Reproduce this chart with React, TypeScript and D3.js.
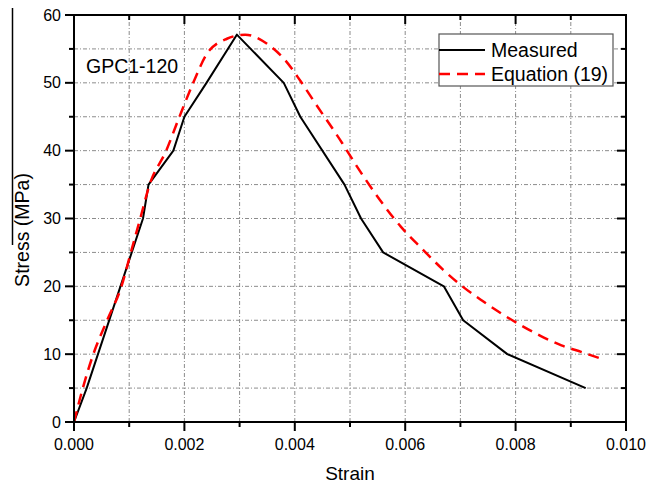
import React from 'react';
import * as d3 from 'd3';

const measuredStrain = [0, 0.00023, 0.00125, 0.00135, 0.0018, 0.002, 0.0024, 0.00295, 0.0038, 0.0041, 0.0049, 0.0052, 0.0056, 0.0067, 0.00705, 0.00785, 0.00927];
const measuredStress = [0, 5, 30, 35, 40, 45, 50, 57.1, 50, 45, 35, 30, 25, 20, 15, 10, 5];

const eqStrain = [0, 0.00016, 0.00035, 0.0006, 0.00086, 0.00103, 0.0012, 0.00137, 0.00167, 0.00191, 0.00216, 0.00241, 0.00277, 0.0031, 0.00349, 0.00382, 0.0041, 0.00437, 0.00486, 0.0051, 0.00559, 0.00592, 0.00631, 0.00668, 0.00702, 0.00739, 0.00776, 0.00812, 0.00845, 0.00883, 0.0092, 0.00956];
const eqStress = [0, 5, 10, 15, 20, 25, 30, 35, 40, 45, 50, 54.3, 56.5, 57.1, 55.8, 53.4, 50.3, 47, 41.1, 38, 32.2, 28.8, 25.5, 22.5, 20.1, 17.9, 15.9, 14.15, 12.7, 11.3, 10.3, 9.3];

const xTickLabels = ['0.000', '0.002', '0.004', '0.006', '0.008', '0.010'];
const xMajor = [0, 0.002, 0.004, 0.006, 0.008, 0.01];
const xMinor = [0.001, 0.003, 0.005, 0.007, 0.009];
const yMajor = [0, 10, 20, 30, 40, 50, 60];
const yMinor = [5, 15, 25, 35, 45, 55];
const seriesNames = ['Measured', 'Equation (19)'];
const annotation = 'GPC1-120';

const FONT = '"Liberation Sans", Arial, sans-serif';

export default function App() {
  const x = d3.scaleLinear().domain([0, 0.01]).range([74, 626]);
  const y = d3.scaleLinear().domain([0, 60]).range([422, 15]);
  const [x0, x1] = x.range();
  const [y0, y1] = y.range();

  const lineGen = d3.line<[number, number]>().x(d => x(d[0])).y(d => y(d[1]));
  const curveGen = d3.line<[number, number]>().x(d => x(d[0])).y(d => y(d[1])).curve(d3.curveMonotoneX);

  const measured: [number, number][] = measuredStrain.map((s, i) => [s, measuredStress[i]]);
  const equation: [number, number][] = eqStrain.map((s, i) => [s, eqStress[i]]);

  const gridV = [...xMajor, ...xMinor].filter(v => v > 0 && v < 0.01);
  const gridH = [...yMajor, ...yMinor].filter(v => v > 0 && v < 60);

  const gridStyle = { stroke: '#8c8c8c', strokeWidth: 1, strokeDasharray: '4,2,1,2' };

  return (
    <svg width={661} height={485} style={{ position: 'absolute', left: 0, top: 0, background: '#fff' }} fontFamily={FONT}>
      <rect x={0} y={0} width={661} height={485} fill="#fff" />
      {/* stray line from original image */}
      <line x1={12.5} x2={12.5} y1={8} y2={245} stroke="#000" strokeWidth={1.5} />

      {/* grid */}
      {gridV.map(v => (
        <line key={'gv' + v} x1={x(v)} x2={x(v)} y1={y0} y2={y1} style={gridStyle} />
      ))}
      {gridH.map(v => (
        <line key={'gh' + v} x1={x0} x2={x1} y1={y(v)} y2={y(v)} style={gridStyle} />
      ))}

      {/* curves */}
      <path d={lineGen(measured) || ''} fill="none" stroke="#000" strokeWidth={2} strokeLinejoin="round" />
      <path d={curveGen(equation) || ''} fill="none" stroke="#ff0000" strokeWidth={2.5} strokeDasharray="11,7" />

      {/* frame */}
      <rect x={x0} y={y1} width={x1 - x0} height={y0 - y1} fill="none" stroke="#000" strokeWidth={2} />

      {/* bottom ticks (outward) and top ticks (inward) */}
      {xMajor.map(v => (
        <g key={'xm' + v}>
          <line x1={x(v)} x2={x(v)} y1={y0} y2={y0 + 9} stroke="#000" strokeWidth={2} />
          <line x1={x(v)} x2={x(v)} y1={y1} y2={y1 + 9} stroke="#000" strokeWidth={2} />
        </g>
      ))}
      {xMinor.map(v => (
        <g key={'xn' + v}>
          <line x1={x(v)} x2={x(v)} y1={y0} y2={y0 + 5} stroke="#000" strokeWidth={2} />
          <line x1={x(v)} x2={x(v)} y1={y1} y2={y1 + 5} stroke="#000" strokeWidth={2} />
        </g>
      ))}
      {yMajor.map(v => (
        <g key={'ym' + v}>
          <line x1={x0 - 9} x2={x0} y1={y(v)} y2={y(v)} stroke="#000" strokeWidth={2} />
          <line x1={x1 - 9} x2={x1} y1={y(v)} y2={y(v)} stroke="#000" strokeWidth={2} />
        </g>
      ))}
      {yMinor.map(v => (
        <g key={'yn' + v}>
          <line x1={x0 - 5} x2={x0} y1={y(v)} y2={y(v)} stroke="#000" strokeWidth={2} />
          <line x1={x1 - 5} x2={x1} y1={y(v)} y2={y(v)} stroke="#000" strokeWidth={2} />
        </g>
      ))}

      {/* tick labels */}
      {xMajor.map((v, i) => (
        <text key={'xl' + v} x={x(v)} y={450} fontSize={16} textAnchor="middle" fill="#000">{xTickLabels[i]}</text>
      ))}
      {yMajor.map(v => (
        <text key={'yl' + v} x={61} y={y(v) + 5.5} fontSize={16} textAnchor="end" fill="#000">{v}</text>
      ))}

      {/* axis titles */}
      <text x={350} y={480} fontSize={19} textAnchor="middle" fill="#000">Strain</text>
      <text transform="translate(29,230) rotate(-90)" fontSize={19.5} textAnchor="middle" fill="#000">Stress (MPa)</text>

      {/* annotation */}
      <text x={86} y={73} fontSize={19.5} fill="#000">{annotation}</text>

      {/* legend */}
      <rect x={439} y={34} width={174} height={52} fill="#fff" stroke="#555" strokeWidth={1.2} />
      <line x1={439} x2={485} y1={50} y2={50} stroke="#000" strokeWidth={2} />
      <line x1={439} x2={485} y1={74} y2={74} stroke="#ff0000" strokeWidth={2.5} strokeDasharray="11,7" />
      <text x={491} y={57} fontSize={19.5} fill="#000">{seriesNames[0]}</text>
      <text x={491} y={81} fontSize={19.5} fill="#000">{seriesNames[1]}</text>
    </svg>
  );
}
